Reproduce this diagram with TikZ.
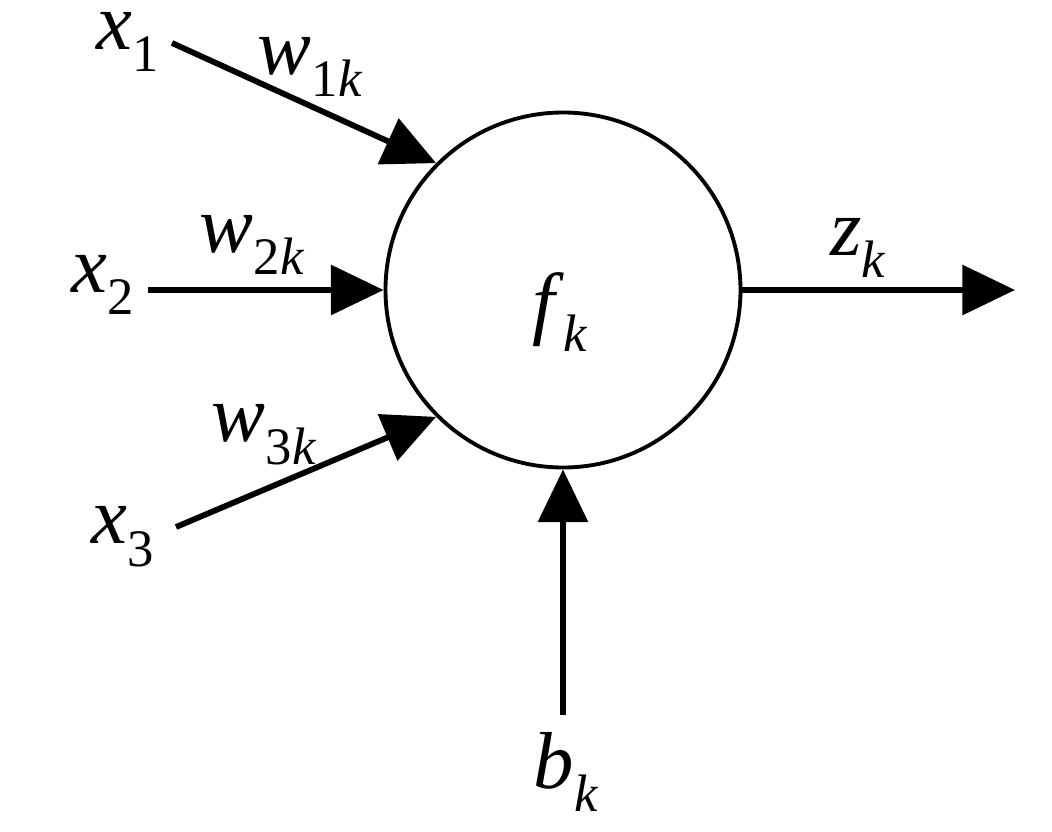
\documentclass[tikz,border=0pt]{standalone}
\usepackage{fontspec}
\setmainfont{Liberation Serif}
\usetikzlibrary{arrows.meta}
\newcommand{\lbl}[2]{\textit{#1}\raisebox{-0.28em}{\fontsize{30}{32}\selectfont #2}}
\begin{document}
\begin{tikzpicture}[x=0.02cm,y=-0.02cm,
  ln/.style={line width=3.3pt,-{Triangle[length=30pt,width=28pt]}},
  t/.style={font=\fontsize{46}{50}\selectfont,inner sep=0pt}]
\useasboundingbox (0,0) rectangle (1052,832);
\node[circle,draw,line width=2.2pt,minimum size=355*0.02cm,inner sep=0pt] (c) at (563,290) {};
\coordinate (a1) at (172,43); \coordinate (a2) at (148,290); \coordinate (a3) at (176,527);
\coordinate (o) at (1015,290); \coordinate (bb) at (563,715);
\draw[ln] (a1) -- (c.135);
\draw[ln] (a2) -- (c.180);
\draw[ln] (a3) -- (c.225);
\draw[ln] (c.east) -- (o);
\draw[ln] (bb) -- (c.south);
\node[t] (x1) at (128,42) {\lbl{x}{1}};
\node[t] (x2) at (103,285) {\lbl{x}{2}};
\node[t] (x3) at (123,537) {\lbl{x}{3}};
\node[t] (w1) at (310,67) {\lbl{w}{1\textit{k}}};
\node[t] (w2) at (252,245) {\lbl{w}{2\textit{k}}};
\node[t] (w3) at (264,435) {\lbl{w}{3\textit{k}}};
\node[t] (f) at (560,312) {\lbl{f}{\textit{k}}};
\node[t] (z) at (858,248) {\lbl{z}{\textit{k}}};
\node[t] (b) at (566,772) {\lbl{b}{\textit{k}}};
\end{tikzpicture}
\end{document}
